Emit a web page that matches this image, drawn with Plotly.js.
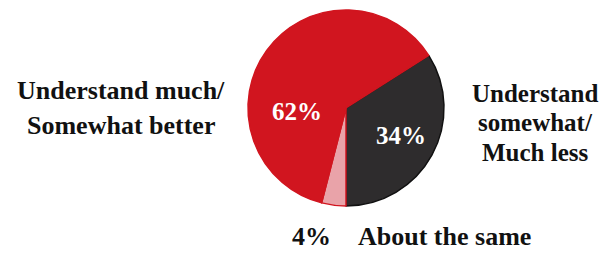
<!DOCTYPE html>
<html>
<head>
<meta charset="utf-8">
<script src="https://cdn.plot.ly/plotly-3.0.1.min.js"></script>
<style>html,body{margin:0;padding:0;background:#fff;}#chart{width:604px;height:254px;}</style>
</head>
<body>
<div id="chart"></div>
<script>
const categories = ["Understand somewhat/Much less", "About the same", "Understand much/Somewhat better"];
const labelLines = [["Understand", "somewhat/", "Much less"], ["About the same"], ["Understand much/", "Somewhat better"]];
const values = [34, 4, 62];
const sliceColors = ["#2e2c2d", "#e9a3a9", "#d1151f"];
const lineColors = ["#111111", "#d1151f", "#d1151f"];

const font = "'Liberation Serif', 'Times New Roman', Times, serif";
const H = 254, W = 604;

const pie = {
  type: "pie",
  labels: categories,
  values: values,
  sort: false,
  direction: "clockwise",
  rotation: 57.6,
  marker: {colors: sliceColors, line: {color: lineColors, width: 1.5}},
  textinfo: "none",
  hoverinfo: "label+percent",
  domain: {x: [0.4106, 0.7351], y: [0.189, 0.961]},
  showlegend: false
};

// label block placement (pixel centre x, first line centre y, line step)
const labelPlace = [
  {x: 535, y: 93, step: 29.5, size: 25},
  {x: 444, y: 236, step: 0, size: 26},
  {x: 121, y: 90.5, step: 35, size: 26}
];
const pctPlace = [
  {x: 401, y: 135, size: 25, color: "#ffffff"},
  {x: 311.5, y: 236, size: 26, color: "#111111"},
  {x: 296.5, y: 111, size: 25, color: "#ffffff"}
];

const annotations = [];
values.forEach((v, i) => {
  const p = pctPlace[i];
  annotations.push({x: p.x / W, y: 1 - p.y / H, text: "<b>" + v + "%</b>", font: {size: p.size, color: p.color}});
  const lp = labelPlace[i];
  labelLines[i].forEach((ln, j) => {
    annotations.push({x: lp.x / W, y: 1 - (lp.y + j * lp.step) / H, text: "<b>" + ln + "</b>", font: {size: lp.size, color: "#111111"}});
  });
});
annotations.forEach(a => {
  Object.assign(a, {xref: "paper", yref: "paper", showarrow: false, xanchor: "center", yanchor: "middle"});
  a.font.family = font;
});

const layout = {
  width: W, height: H,
  margin: {l: 0, r: 0, t: 0, b: 0},
  paper_bgcolor: "#ffffff",
  plot_bgcolor: "#ffffff",
  annotations: annotations,
  font: {family: font}
};

Plotly.newPlot("chart", [pie], layout, {displayModeBar: false, staticPlot: true});
</script>
</body>
</html>
